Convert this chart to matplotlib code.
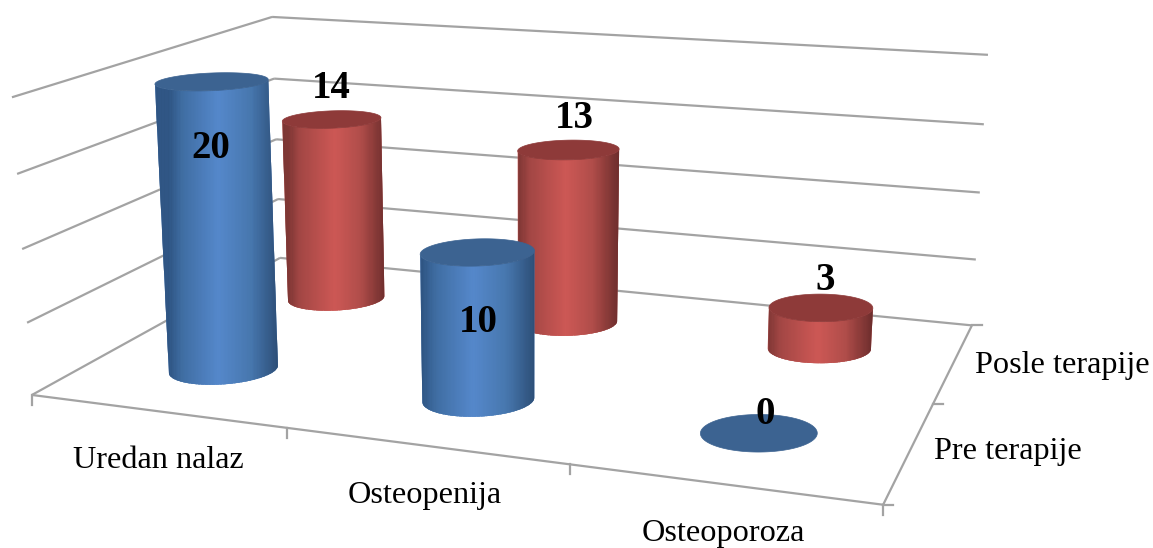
# -*- coding: utf-8 -*-
# 3D cylinder chart, drawn on a flat axes through a fitted perspective projection
import numpy as np
import matplotlib
matplotlib.use("Agg")
import matplotlib.pyplot as plt
from matplotlib.collections import PolyCollection
from matplotlib.colors import LinearSegmentedColormap
from matplotlib.patches import Polygon

# Data
categories = ["Uredan nalaz", "Osteopenija", "Osteoporoza"]
series_names = ["Pre terapije", "Posle terapije"]
pre_values = [20, 10, 0]
post_values = [14, 13, 3]
z_levels = [0, 5, 10, 15, 20]

# Box corners (world u, v, z) and where they land in the picture
world_pts = np.array([[0, 0, 0], [3, 0, 0], [3, 2, 0], [0, 2, 0],
                      [0, 0, 20], [0, 2, 20], [3, 2, 20]], dtype=float)
pixel_pts = np.array([[32, 395], [883, 505], [972, 325], [280, 258],
                      [12, 97], [272, 17], [988, 55]], dtype=float)


def fit_projection(world, pixel):
    rows, rhs = [], []
    for (x, y, z), (px, py) in zip(world, pixel):
        rows.append([x, y, z, 1, 0, 0, 0, 0, -px * x, -px * y, -px * z])
        rows.append([0, 0, 0, 0, x, y, z, 1, -py * x, -py * y, -py * z])
        rhs += [px, py]
    sol = np.linalg.lstsq(np.array(rows), np.array(rhs), rcond=None)[0]
    return np.append(sol, 1).reshape(3, 4)


P = fit_projection(world_pts, pixel_pts)


def project(u, v, z):
    u, v, z = np.broadcast_arrays(u, v, z)
    h = P @ np.vstack([u.ravel(), v.ravel(), z.ravel(), np.ones(u.size)])
    return h[0] / h[2], h[1] / h[2]


plt.rcParams['font.family'] = ['Liberation Serif', 'DejaVu Serif']
fig = plt.figure(figsize=(11.53, 5.48), dpi=100)
ax = fig.add_axes([0, 0, 1, 1])
ax.set_xlim(0, 1153)
ax.set_ylim(548, 0)
ax.axis('off')

GRID = '#a3a3a3'


def seg(a, b, lw=1.6, z=1):
    xs, ys = project(np.array([a[0], b[0]]), np.array([a[1], b[1]]), np.array([a[2], b[2]]))
    ax.plot(xs, ys, color=GRID, lw=lw, zorder=z, solid_capstyle='butt')


# walls
for lev in z_levels:
    seg((0, 0, lev), (0, 2, lev))
    seg((0, 2, lev), (3, 2, lev))
# floor edges and ticks
seg((0, 0, 0), (3, 0, 0))
seg((3, 0, 0), (3, 2, 0))
for i in range(len(categories) + 1):
    x0, y0 = project(np.array([float(i)]), np.array([0.0]), np.array([0.0]))
    ax.plot([x0[0], x0[0]], [y0[0], y0[0] + 10], color=GRID, lw=1.6, zorder=1)
for i in range(len(series_names) + 1):
    x0, y0 = project(np.array([3.0]), np.array([float(i)]), np.array([0.0]))
    ax.plot([x0[0], x0[0] + 10], [y0[0], y0[0]], color=GRID, lw=1.6, zorder=1)

blue_cmap = LinearSegmentedColormap.from_list(
    'b', [(0, '#2f5583'), (0.12, '#3f6da2'), (0.45, '#5588cb'), (0.75, '#4777ae'), (1, '#2c4d75')])
red_cmap = LinearSegmentedColormap.from_list(
    'r', [(0, '#7c3634'), (0.12, '#a24644'), (0.48, '#cd5855'), (0.75, '#b04d4a'), (1, '#6d2e2d')])


def lower_arc(x, y):
    # part of the ellipse facing the viewer, left extreme to right extreme
    m = len(x) - 1
    left, right = np.argmin(x[:-1]), np.argmax(x[:-1])
    if left > right:
        right += m
    idx = np.arange(left, right + 1) % m
    return x[idx], y[idx]


def cylinder(u0, v0, value, cmap, top_color, zo, ru=0.185, rv=0.185):
    th = np.linspace(0, 2 * np.pi, 361)
    # slightly sheared world circle so that it shows as a nearly level ellipse
    cu = u0 + ru * np.cos(th) - 0.158 * rv * np.sin(th)
    cv = v0 + rv * np.sin(th) + 0.3 * ru * np.cos(th)
    xb, yb = project(cu, cv, 0.0)
    xt, yt = project(cu, cv, float(value))
    if value > 0:
        xb2, yb2 = lower_arc(xb, yb)
        xt2, yt2 = lower_arc(xt, yt)
        outline = np.vstack([np.column_stack([xb2, yb2]), np.column_stack([xt2, yt2])[::-1]])
        # plain body under the strips so the clipped edge stays smooth
        ax.add_patch(Polygon(outline, closed=True, facecolor=cmap(0.5), edgecolor='none', zorder=zo))
        # vertical strips: x runs from the bottom extremes, clipped to the outline
        edges = np.linspace(outline[:, 0].min(), outline[:, 0].max(), 90)
        ymin, ymax = outline[:, 1].min(), outline[:, 1].max()
        lo_x, hi_x = xb2[0], xb2[-1]
        polys, cols = [], []
        for a in range(len(edges) - 1):
            polys.append([(edges[a], ymin), (edges[a + 1], ymin), (edges[a + 1], ymax), (edges[a], ymax)])
            cols.append(cmap(np.clip((0.5 * (edges[a] + edges[a + 1]) - lo_x) / (hi_x - lo_x), 0, 1)))
        strips = PolyCollection(polys, facecolors=cols, edgecolors=cols, linewidths=0.4, zorder=zo + 0.01)
        ax.add_collection(strips)
        strips.set_clip_path(Polygon(outline, closed=True, transform=ax.transData))
    ax.fill(xt, yt, color=top_color, lw=0.5, zorder=zo + 0.1)


# back row first, then front row
for i in range(len(categories)):
    cylinder(i + 0.5, 1.5, post_values[i], red_cmap, '#8e3a39', 2 + i * 0.01)
for i in range(len(categories)):
    cylinder(i + 0.5, 0.5, pre_values[i], blue_cmap, '#3c6391', 3 + i * 0.01)

# value labels
label_pos = [(211, 149), (478, 322), (765, 414)]
for val, (x, y) in zip(pre_values, label_pos):
    ax.text(x, y, str(val), ha='center', va='center', fontsize=28, fontweight='bold', color='black', zorder=6)
label_pos2 = [(331, 89), (574, 119), (825, 280)]
for val, (x, y) in zip(post_values, label_pos2):
    ax.text(x, y, str(val), ha='center', va='center', fontsize=28, fontweight='bold', color='black', zorder=6)

# axis labels
cat_pos = [(158, 461), (425, 496), (723, 533)]
for name, (x, y) in zip(categories, cat_pos):
    ax.text(x, y, name, ha='center', va='center', fontsize=23.2, color='black')
ser_pos = [(934, 452), (975, 366)]
for name, (x, y) in zip(series_names, ser_pos):
    ax.text(x, y, name, ha='left', va='center', fontsize=23.2, color='black')

fig.savefig('out.png', dpi=100)
